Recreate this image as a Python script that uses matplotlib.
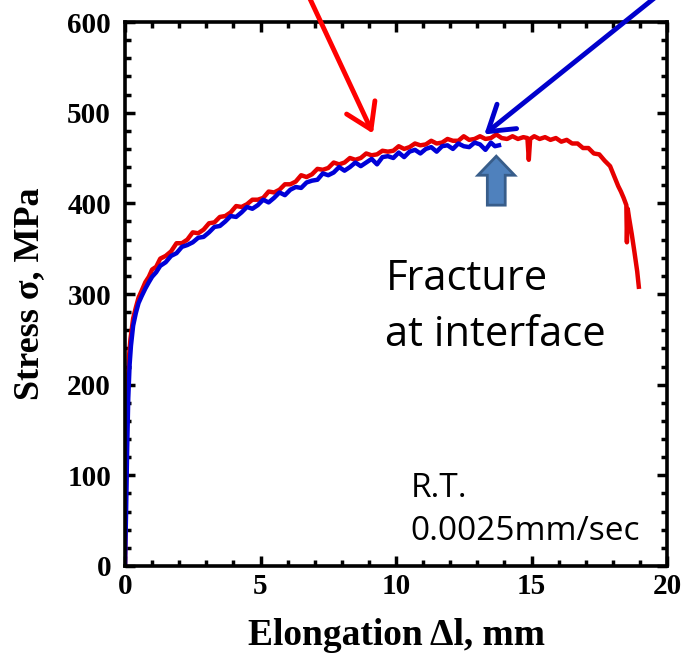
import matplotlib.pyplot as plt
from matplotlib.patches import FancyArrow
from matplotlib.ticker import MultipleLocator

# elongation (mm) and stress (MPa), specimen that necked before fracture
red_x = [0, 0.03, 0.06, 0.1, 0.15, 0.2, 0.3, 0.4, 0.5, 0.62, 0.75, 0.88, 1.0, 1.15, 1.3,
         1.5, 1.7, 1.9, 2.1, 2.3, 2.5, 2.7, 2.9, 3.1, 3.3, 3.5, 3.7, 3.9, 4.1, 4.3, 4.5,
         4.7, 4.9, 5.1, 5.3, 5.5, 5.7, 5.9, 6.1, 6.3, 6.5, 6.7, 6.9, 7.1, 7.3, 7.5, 7.7,
         7.9, 8.1, 8.3, 8.5, 8.7, 8.9, 9.1, 9.3, 9.5, 9.7, 9.9, 10.1, 10.3, 10.5, 10.7,
         10.9, 11.1, 11.3, 11.5, 11.7, 11.9, 12.1, 12.3, 12.5, 12.7, 12.9, 13.1, 13.3,
         13.5, 13.7, 13.9, 14.1, 14.3, 14.5, 14.7, 14.85, 14.9, 14.95, 15.1, 15.3, 15.5,
         15.7, 15.9, 16.1, 16.3, 16.5, 16.7, 16.9, 17.1, 17.3, 17.5, 17.7, 17.9, 18.05,
         18.2, 18.3, 18.4, 18.45, 18.5, 18.52, 18.55, 18.6, 18.7, 18.8, 18.9, 18.96]
red_y = [0, 80, 150, 200, 232, 250, 273, 285, 296, 304, 313, 319, 327, 330, 339,
         342, 347, 356, 356, 360, 368, 367, 371, 378, 379, 385, 386, 390, 397, 396, 399,
         404, 404, 406, 413, 412, 415, 421, 421, 424, 431, 429, 432, 438, 437, 439, 445,
         443, 445, 450, 448, 450, 455, 453, 454, 458, 457, 458, 463, 460, 462, 466,
         464, 465, 469, 466, 467, 471, 469, 469, 474, 470, 471, 474, 471, 472, 476,
         472, 471, 474, 471, 473, 472, 448, 471, 474, 471, 473, 470, 472, 468, 470,
         466, 466, 461, 461, 455, 454, 447, 441, 430, 419, 413, 406, 402, 398, 357, 394,
         384, 366, 346, 325, 308]

# specimen that broke at the interface
blue_x = [0, 0.04, 0.08, 0.12, 0.17, 0.22, 0.3, 0.4, 0.5, 0.62, 0.75, 0.88, 1.0, 1.15,
          1.3, 1.5, 1.7, 1.9, 2.1, 2.3, 2.5, 2.7, 2.9, 3.1, 3.3, 3.5, 3.7, 3.9, 4.1, 4.3,
          4.5, 4.7, 4.9, 5.1, 5.3, 5.5, 5.7, 5.9, 6.1, 6.3, 6.5, 6.7, 6.9, 7.1, 7.3, 7.5,
          7.7, 7.9, 8.1, 8.3, 8.5, 8.7, 8.9, 9.1, 9.3, 9.5, 9.7, 9.9, 10.1, 10.3, 10.5,
          10.7, 10.9, 11.1, 11.3, 11.5, 11.7, 11.9, 12.1, 12.3, 12.5, 12.7, 12.9, 13.1,
          13.3, 13.5, 13.65, 13.8]
blue_y = [0, 60, 130, 185, 222, 243, 265, 279, 290, 298, 306, 313, 319, 324,
          331, 335, 342, 345, 352, 354, 357, 362, 363, 368, 374, 375, 380, 386, 385, 390,
          396, 394, 398, 404, 401, 406, 412, 409, 415, 418, 417, 423, 425, 426, 433, 431,
          434, 440, 436, 440, 445, 441, 445, 449, 443, 451, 452, 450, 456, 451, 457,
          459, 455, 460, 462, 457, 463, 464, 460, 466, 463, 462, 467, 465, 459,
          467, 463, 464]

x_ticks = [0, 5, 10, 15, 20]
y_ticks = [0, 100, 200, 300, 400, 500, 600]

fig = plt.figure(figsize=(6.81, 6.54), dpi=100)
ax = fig.add_axes([125 / 681, 88 / 654, 542 / 681, 544 / 654])

ax.plot(red_x, red_y, color='#e60000', lw=3.2)
ax.plot(blue_x, blue_y, color='#0000d8', lw=3.2)

# pointer arrows coming in from above the frame
ax.annotate('', xy=(9.15, 477), xytext=(6.6, 640), annotation_clip=False,
            arrowprops=dict(arrowstyle='->, head_length=0.7, head_width=0.45',
                            color='#ff0000', lw=3.5, mutation_scale=25,
                            shrinkA=0, shrinkB=0))
ax.annotate('', xy=(13.26, 476), xytext=(20.1, 640), annotation_clip=False,
            arrowprops=dict(arrowstyle='->, head_length=0.7, head_width=0.45',
                            color='#0000cc', lw=3.5, mutation_scale=25,
                            shrinkA=0, shrinkB=0))

# block arrow marking the fracture point
ax.add_patch(FancyArrow(13.7, 398, 0, 54, width=0.66, head_width=1.35,
                        head_length=21, length_includes_head=True,
                        facecolor='#4f81bd', edgecolor='#385d8a', lw=2))

ax.text(9.61, 304, 'Fracture', fontsize=30, family='Open Sans', va='baseline')
ax.text(9.61, 242.6, 'at interface', fontsize=30, family='Open Sans', va='baseline')
ax.text(10.53, 76, 'R.T.', fontsize=24, family='Open Sans', va='baseline')
ax.text(10.53, 28.7, '0.0025mm/sec', fontsize=24, family='Open Sans', va='baseline')

ax.set_xlim(0, 20)
ax.set_ylim(0, 600)
ax.set_xticks(x_ticks)
ax.set_yticks(y_ticks)
ax.xaxis.set_minor_locator(MultipleLocator(1))
ax.yaxis.set_minor_locator(MultipleLocator(20))
ax.tick_params(which='both', direction='in', top=True, right=True, width=2.5)
ax.tick_params(which='major', length=7)
ax.tick_params(which='minor', length=4)
ax.tick_params(axis='y', pad=10)
ax.tick_params(axis='x', pad=5)
for lbl in ax.get_xticklabels() + ax.get_yticklabels():
    lbl.set_fontfamily('Liberation Serif')
    lbl.set_fontweight('bold')
    lbl.set_fontsize(21)
for sp in ax.spines.values():
    sp.set_linewidth(2.6)

ax.set_xlabel('Elongation \u0394l, mm', fontsize=27, fontweight='bold',
              family='Liberation Serif', labelpad=13)
ax.set_ylabel('Stress \u03c3, MPa', fontsize=26, fontweight='bold',
              family='Liberation Serif', labelpad=15)

fig.savefig('out.png', dpi=100)
